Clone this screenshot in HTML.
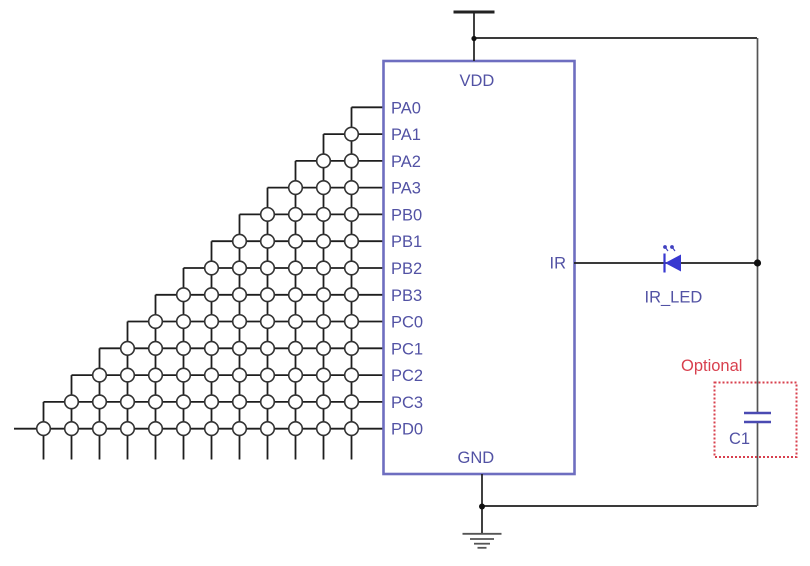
<!DOCTYPE html>
<html><head><meta charset="utf-8"><style>
html,body{margin:0;padding:0;background:#fff;}
svg{display:block;}
text{font-family:"Liberation Sans",Arial,sans-serif;}
</style></head><body>
<svg width="810" height="566" viewBox="0 0 810 566" xmlns="http://www.w3.org/2000/svg">
<rect width="810" height="566" fill="#fff"/>
<g stroke="#1e1e1e" stroke-width="1.8" fill="none">
<!-- rows -->
<line x1="351.5" y1="107.3" x2="384" y2="107.3"/>
<line x1="323.5" y1="134.1" x2="384" y2="134.1"/>
<line x1="295.5" y1="160.9" x2="384" y2="160.9"/>
<line x1="267.5" y1="187.6" x2="384" y2="187.6"/>
<line x1="239.5" y1="214.4" x2="384" y2="214.4"/>
<line x1="211.5" y1="241.2" x2="384" y2="241.2"/>
<line x1="183.5" y1="268.0" x2="384" y2="268.0"/>
<line x1="155.5" y1="294.8" x2="384" y2="294.8"/>
<line x1="127.5" y1="321.5" x2="384" y2="321.5"/>
<line x1="99.5" y1="348.3" x2="384" y2="348.3"/>
<line x1="71.5" y1="375.1" x2="384" y2="375.1"/>
<line x1="43.5" y1="401.9" x2="384" y2="401.9"/>
<line x1="14" y1="428.7" x2="384" y2="428.7"/>
<!-- columns -->
<line x1="43.5" y1="401.9" x2="43.5" y2="459.5"/>
<line x1="71.5" y1="375.1" x2="71.5" y2="459.5"/>
<line x1="99.5" y1="348.3" x2="99.5" y2="459.5"/>
<line x1="127.5" y1="321.5" x2="127.5" y2="459.5"/>
<line x1="155.5" y1="294.8" x2="155.5" y2="459.5"/>
<line x1="183.5" y1="268.0" x2="183.5" y2="459.5"/>
<line x1="211.5" y1="241.2" x2="211.5" y2="459.5"/>
<line x1="239.5" y1="214.4" x2="239.5" y2="459.5"/>
<line x1="267.5" y1="187.6" x2="267.5" y2="459.5"/>
<line x1="295.5" y1="160.9" x2="295.5" y2="459.5"/>
<line x1="323.5" y1="134.1" x2="323.5" y2="459.5"/>
<line x1="351.5" y1="107.3" x2="351.5" y2="459.5"/>
</g>
<g stroke="#333" stroke-width="1.6" fill="#fff" id="circ">
</g>
<script>
(function(){
var g=document.getElementById('circ');
for(var k=1;k<=12;k++){
 var y=107.3+26.78*k;
 for(var j=12-k;j<=11;j++){
  var x=43.5+28*j;
  var c=document.createElementNS('http://www.w3.org/2000/svg','circle');
  c.setAttribute('cx',x);c.setAttribute('cy',y);c.setAttribute('r',6.8);
  g.appendChild(c);
 }
}
})();
</script>
<!-- chip -->
<rect x="383.5" y="61" width="191" height="413" fill="none" stroke="#6e6ec0" stroke-width="2.6"/>
<g fill="#5252a4" font-size="16.5">
<text x="391" y="113.3">PA0</text>
<text x="391" y="140.1">PA1</text>
<text x="391" y="166.9">PA2</text>
<text x="391" y="193.6">PA3</text>
<text x="391" y="220.4">PB0</text>
<text x="391" y="247.2">PB1</text>
<text x="391" y="274.0">PB2</text>
<text x="391" y="300.8">PB3</text>
<text x="391" y="327.5">PC0</text>
<text x="391" y="354.3">PC1</text>
<text x="391" y="381.1">PC2</text>
<text x="391" y="407.9">PC3</text>
<text x="391" y="434.7">PD0</text>
<text x="459.5" y="86">VDD</text>
<text x="457.5" y="463">GND</text>
<text x="549.5" y="268.5">IR</text>
<text x="644.5" y="302.5">IR_LED</text>
<text x="729" y="444">C1</text>
</g>
<text x="681" y="371" fill="#d8404e" font-size="16.5">Optional</text>
<!-- wires -->
<g stroke="#1e1e1e" stroke-width="1.7" fill="none">
<line x1="474" y1="12" x2="474" y2="61"/>
<line x1="474" y1="38" x2="757" y2="38"/>
<line x1="574" y1="263" x2="757" y2="263"/>
<line x1="482" y1="474" x2="482" y2="534"/>
<line x1="482" y1="506" x2="757" y2="506"/>
</g>
<line x1="453.5" y1="12" x2="494.5" y2="12" stroke="#222" stroke-width="3"/>
<g stroke="#555" stroke-width="1.7">
<line x1="757.5" y1="38" x2="757.5" y2="413"/>
<line x1="757.5" y1="422" x2="757.5" y2="506"/>
</g>
<circle cx="474" cy="38.5" r="2.6" fill="#111"/>
<circle cx="757.5" cy="263" r="3.6" fill="#111"/>
<circle cx="482" cy="506.5" r="3" fill="#111"/>
<!-- LED -->
<polygon points="665,263 681,254.5 681,271.5" fill="#3838d0"/>
<line x1="664.5" y1="253.5" x2="664.5" y2="272.5" stroke="#3838d0" stroke-width="2.2"/>
<g stroke="#4040c0" stroke-width="1.2" fill="#4040c0">
<line x1="668" y1="251" x2="665" y2="247"/>
<line x1="675" y1="251" x2="672" y2="247"/>
<circle cx="665" cy="247" r="1.3"/>
<circle cx="672" cy="247" r="1.3"/>
</g>
<!-- capacitor -->
<g stroke="#4a4ab2" stroke-width="2.6">
<line x1="744" y1="413" x2="771" y2="413"/>
<line x1="744" y1="422" x2="771" y2="422"/>
</g>
<rect x="714.5" y="382.5" width="82" height="74.5" fill="none" stroke="#d8404e" stroke-width="2" stroke-dasharray="2,2"/>
<!-- ground -->
<g stroke="#555" stroke-width="1.8">
<line x1="462.5" y1="533.8" x2="501.5" y2="533.8"/>
<line x1="470" y1="539" x2="494" y2="539"/>
<line x1="474" y1="543.7" x2="490" y2="543.7"/>
<line x1="477.5" y1="547.8" x2="486.5" y2="547.8"/>
</g>
</svg>
</body></html>
